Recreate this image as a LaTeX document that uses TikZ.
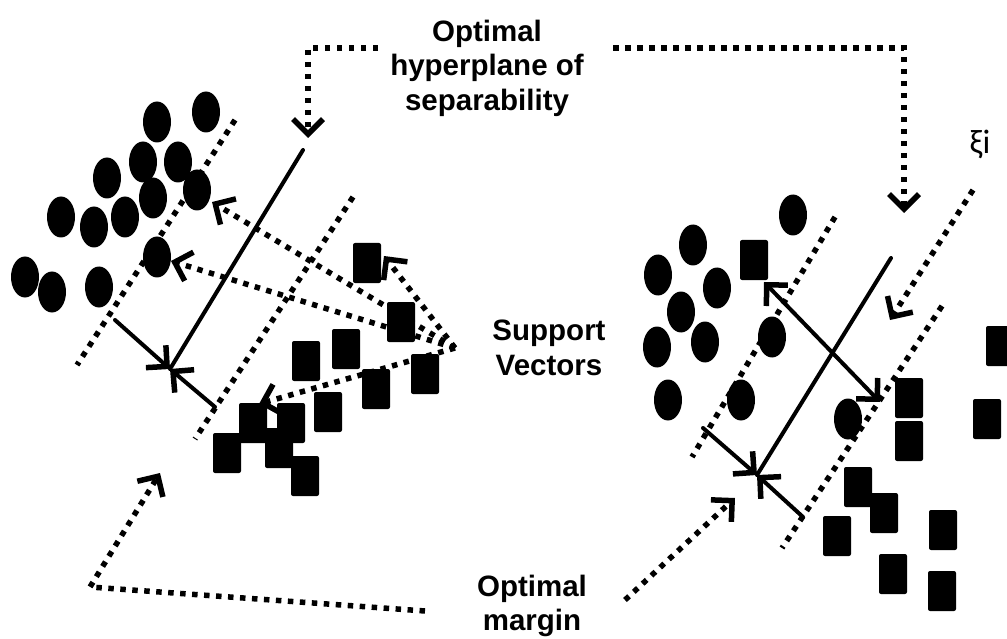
\documentclass[tikz,border=0pt]{standalone}
\usepackage{fontspec}
\setmainfont{Liberation Sans}
\newfontfamily\xifont{Carlito}
\usetikzlibrary{arrows.meta,shapes.geometric}

\begin{document}
\begin{tikzpicture}[x=1pt,y=-1pt,
  blob/.style={ellipse, fill=black, minimum width=28pt, minimum height=41pt, inner sep=0pt},
  box/.style={rectangle, fill=black, minimum width=28pt, minimum height=40pt, inner sep=0pt, rounded corners=2pt},
  dotline/.style={line width=5.5pt, dash pattern=on 5.5pt off 6.5pt},
  solidline/.style={line width=4pt, line cap=round},
  barb/.style={-{Straight Barb[length=15pt,width=30pt,line width=5.5pt]}},
  dbarb/.style={{Straight Barb[length=15pt,width=30pt,line width=5.5pt]}-{Straight Barb[length=15pt,width=30pt,line width=5.5pt]}},
  lbl/.style={font=\fontsize{29.5}{34.5}\selectfont\bfseries, align=center, inner sep=0pt}
]
\useasboundingbox (0,0) rectangle (1007,639);

% ---------- left panel: class A (ellipses) ----------
\foreach \x/\y [count=\i] in {157/122,206/112,143/162,178/162,107/178,153/198,197/190,
                              61/217,94/227,125/217,157/257,25/277,52/292,99/287}
  \node[blob] (la\i) at (\x,\y) {};
% ---------- left panel: class B (rectangles) ----------
\foreach \x/\y [count=\i] in {367/263,401/322,346/349,306/361,425/374,376/389,328/412,
                              253/423,291/423,227/453,279/448,305/476}
  \node[box] (lb\i) at (\x,\y) {};

% margins and hyperplane (left)
\coordinate (lm1a) at (235,120); \coordinate (lm1b) at (77,365);
\coordinate (lm2a) at (353,197); \coordinate (lm2b) at (195,439);
\coordinate (lh1) at (303,150);  \coordinate (lh2) at (170,369);
\draw[dotline] (lm1a) -- (lm1b);
\draw[dotline] (lm2a) -- (lm2b);
\draw[solidline] (lh1) -- (lh2);
\coordinate (lw1) at (115,320); \coordinate (lw2) at (215,407);
\draw[solidline,barb] (lw1) -- (lh2);
\draw[solidline,barb] (lw2) -- (lh2);

% support-vector pointers
\coordinate (sv) at (455,348);
\coordinate (sv1) at (212,202);
\coordinate (sv2) at (171,261);
\coordinate (sv3) at (384,256);
\coordinate (sv4) at (259,404);
\draw[dotline,barb] (sv) -- (sv1);
\draw[dotline,barb] (sv) -- (sv2);
\draw[dotline,barb] (sv) -- (sv3);
\draw[dotline,barb] (sv) -- (sv4);

% ---------- right panel: class A (ellipses) ----------
\foreach \x/\y [count=\i] in {793/215,693/245,658/275,717/288,681/312,657/347,705/342,
                              772/337,668/400,741/400,848/419}
  \node[blob] (ra\i) at (\x,\y) {};
% ---------- right panel: class B (rectangles) ----------
\foreach \x/\y [count=\i] in {754/260,1000/346,909/398,909/441,987/419,858/487,884/513,
                              837/536,943/530,893/574,942/591}
  \node[box] (rb\i) at (\x,\y) {};

% margins and hyperplane (right)
\coordinate (rm1a) at (835,217); \coordinate (rm1b) at (692,457);
\coordinate (rm2a) at (942,306); \coordinate (rm2b) at (782,548);
\coordinate (rh1) at (891,258);  \coordinate (rh2) at (757,475);
\draw[dotline] (rm1a) -- (rm1b);
\draw[dotline] (rm2a) -- (rm2b);
\draw[solidline] (rh1) -- (rh2);
\coordinate (rw1) at (703,428); \coordinate (rw2) at (803,517);
\draw[solidline,barb] (rw1) -- (rh2);
\draw[solidline,barb] (rw2) -- (rh2);
\coordinate (rd1) at (764,282); \coordinate (rd2) at (880,402);
\draw[solidline,dbarb] (rd1) -- (rd2);

% slack variable
\node[font=\xifont\fontsize{34}{36}\selectfont, inner sep=0pt] (xi) at (980,144) {ξi};
\coordinate (xia) at (973,190); \coordinate (xib) at (890,320);
\draw[dotline,barb] (xia) -- (xib);

% ---------- labels and their leaders ----------
\node[lbl] (hyp) at (487,68) {Optimal\\hyperplane of\\separability};
\coordinate (ht1) at (378,48); \coordinate (ht2) at (308,48); \coordinate (ht3) at (308,138);
\draw[dotline,barb] (ht1) -- (ht2) -- (ht3);
\coordinate (hr1) at (613,48); \coordinate (hr2) at (904,48); \coordinate (hr3) at (904,213);
\draw[dotline,barb] (hr1) -- (hr2) -- (hr3);

\node[lbl] (svl) at (549,348) {Support\\Vectors};

\node[lbl] (mrg) at (532,606) {Optimal\\margin};
\coordinate (mb1) at (425,611); \coordinate (mb2) at (90,587); \coordinate (mb3) at (160,473);
\draw[dotline,barb] (mb1) -- (mb2) -- (mb3);
\coordinate (mr1) at (625,600); \coordinate (mr2) at (735,498);
\draw[dotline,barb] (mr1) -- (mr2);
\end{tikzpicture}
\end{document}
